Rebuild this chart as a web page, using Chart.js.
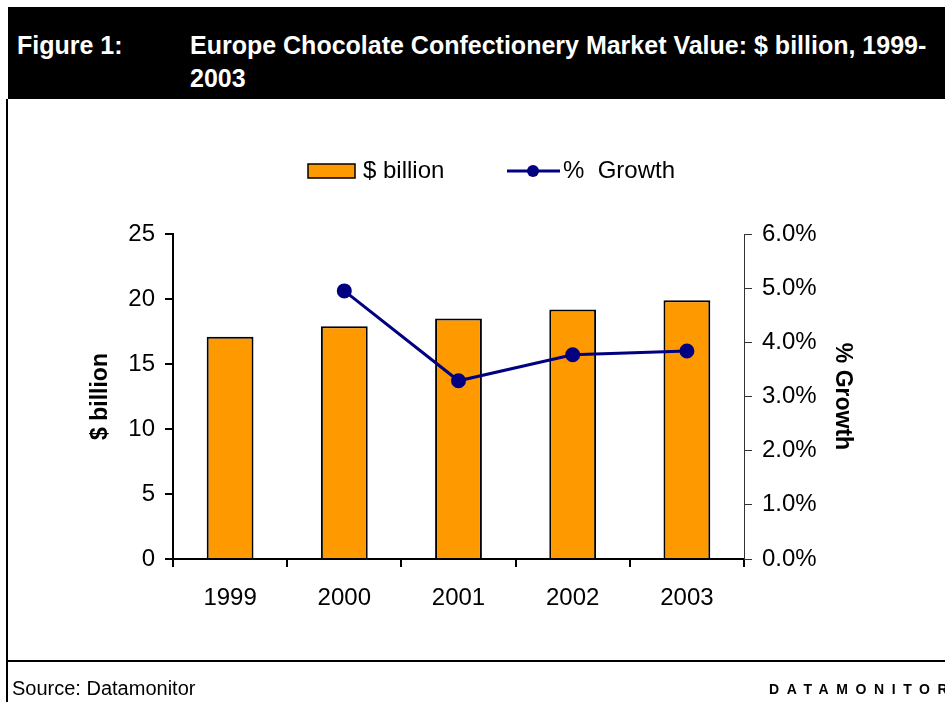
<!DOCTYPE html>
<html>
<head>
<meta charset="utf-8">
<script src="https://cdn.jsdelivr.net/npm/chart.js@4/dist/chart.umd.min.js"></script>
<style>
  body { margin: 0; background: #fff; font-family: "Liberation Sans", Arial, sans-serif; }
  #page { position: relative; width: 945px; height: 702px; overflow: hidden; background: #fff; }
  #chart { position: absolute; left: 0; top: 0; }
  .header { position: absolute; left: 8px; top: 7px; width: 937px; height: 92px; background: #000; color: #fff;
            font-weight: bold; font-size: 25px; line-height: 33px; }
  .header .num { position: absolute; left: 9px; top: 22px; white-space: nowrap; }
  .header .ttl { position: absolute; left: 182px; top: 22px; white-space: nowrap; }
  .vline { position: absolute; left: 6px; top: 99px; width: 2px; height: 603px; background: #000; }
  .hline { position: absolute; left: 6px; top: 660px; width: 939px; height: 2px; background: #000; }
  .source { position: absolute; left: 12px; top: 677px; font-size: 20px; line-height: 22px; color: #000; white-space: nowrap; }
  .brand { position: absolute; left: 769px; top: 681px; font-size: 14px; line-height: 16px; font-weight: bold;
           letter-spacing: 7.6px; color: #000; white-space: nowrap; }
</style>
</head>
<body>
<div id="page">
  <canvas id="chart" width="945" height="702"></canvas>
  <div class="header">
    <div class="num">Figure 1:</div>
    <div class="ttl">Europe Chocolate Confectionery Market Value: $ billion, 1999-<br>2003</div>
  </div>
  <div class="vline"></div>
  <div class="hline"></div>
  <div class="source">Source: Datamonitor</div>
  <div class="brand">DATAMONITOR</div>
</div>
<script>
const years = ['1999', '2000', '2001', '2002', '2003'];
const marketValue = [17.1, 17.9, 18.5, 19.2, 19.9];
const growth = [null, 4.95, 3.29, 3.77, 3.84];
const valueTicks = [0, 5, 10, 15, 20, 25];
const growthTicks = [0, 1, 2, 3, 4, 5, 6];

const FONT = '"Liberation Sans", Arial, sans-serif';
const ORANGE = '#FF9900';
const NAVY = '#000080';

// legend row above the plot: orange box for the bars, line with a dot for growth
const topLegend = {
    id: 'topLegend',
    afterDraw(chart) {
        const ctx = chart.ctx;
        const bars = chart.data.datasets[0];
        const line = chart.data.datasets[1];
        const y = 171;
        ctx.save();
        ctx.fillStyle = bars.backgroundColor;
        ctx.fillRect(308, 164, 47, 14);
        ctx.strokeStyle = bars.borderColor;
        ctx.lineWidth = 1.5;
        ctx.strokeRect(308, 164, 47, 14);

        ctx.strokeStyle = line.borderColor;
        ctx.lineWidth = line.borderWidth;
        ctx.beginPath();
        ctx.moveTo(507, y);
        ctx.lineTo(560, y);
        ctx.stroke();
        ctx.fillStyle = line.pointBackgroundColor;
        ctx.beginPath();
        ctx.arc(533, y, line.pointRadius, 0, Math.PI * 2);
        ctx.fill();

        ctx.fillStyle = '#000';
        ctx.font = '24px ' + FONT;
        ctx.textBaseline = 'middle';
        ctx.textAlign = 'left';
        ctx.fillText(bars.label, 363, y);
        ctx.fillText(line.label, 563, y);
        ctx.restore();
    }
};

new Chart(document.getElementById('chart'), {
    data: {
        labels: years,
        datasets: [{
            type: 'bar',
            label: '$ billion',
            data: marketValue,
            yAxisID: 'y',
            backgroundColor: ORANGE,
            borderColor: '#000',
            borderWidth: 2,
            barPercentage: 0.41,
            categoryPercentage: 1.0,
            order: 2
        }, {
            type: 'line',
            label: '%  Growth',
            data: growth,
            yAxisID: 'y1',
            borderColor: NAVY,
            borderWidth: 3,
            pointBackgroundColor: NAVY,
            pointBorderColor: NAVY,
            pointRadius: 6,
            pointHoverRadius: 6,
            tension: 0,
            order: 1
        }]
    },
    options: {
        responsive: false,
        animation: false,
        events: [],
        layout: {padding: {top: 234, left: 0, right: 0, bottom: 0}},
        plugins: {
            legend: {display: false},
            title: {display: false},
            tooltip: {enabled: false}
        },
        scales: {
            x: {
                grid: {drawOnChartArea: false, offset: true, tickLength: 8, color: '#000', lineWidth: 2},
                border: {color: '#000', width: 2},
                ticks: {color: '#000', padding: 17, font: {family: FONT, size: 24}},
                afterFit: function(scale) { scale.height = 143; }
            },
            y: {
                position: 'left',
                min: 0,
                max: 25,
                afterBuildTicks: function(scale) { scale.ticks = valueTicks.map(v => ({value: v})); },
                grid: {drawOnChartArea: false, tickLength: 8, color: '#000', lineWidth: 2},
                border: {color: '#000', width: 2},
                ticks: {color: '#000', padding: 10, font: {family: FONT, size: 24}},
                title: {
                    display: true,
                    text: '$ billion',
                    color: '#000',
                    padding: {top: 87, bottom: 0},
                    font: {family: FONT, size: 23, weight: 'bold'}
                },
                afterFit: function(scale) { scale.width = 173; }
            },
            y1: {
                position: 'right',
                min: 0,
                max: 6,
                afterBuildTicks: function(scale) { scale.ticks = growthTicks.map(v => ({value: v})); },
                grid: {drawOnChartArea: false, tickLength: 8, color: '#333', lineWidth: 1},
                border: {color: '#333', width: 1},
                ticks: {
                    color: '#000',
                    padding: 10,
                    font: {family: FONT, size: 24},
                    callback: function(v) { return v.toFixed(1) + '%'; }
                },
                title: {
                    display: true,
                    text: '% Growth',
                    color: '#000',
                    padding: {top: 89, bottom: 0},
                    font: {family: FONT, size: 23, weight: 'bold'}
                },
                afterFit: function(scale) { scale.width = 201; }
            }
        }
    },
    plugins: [topLegend]
});
</script>
</body>
</html>
